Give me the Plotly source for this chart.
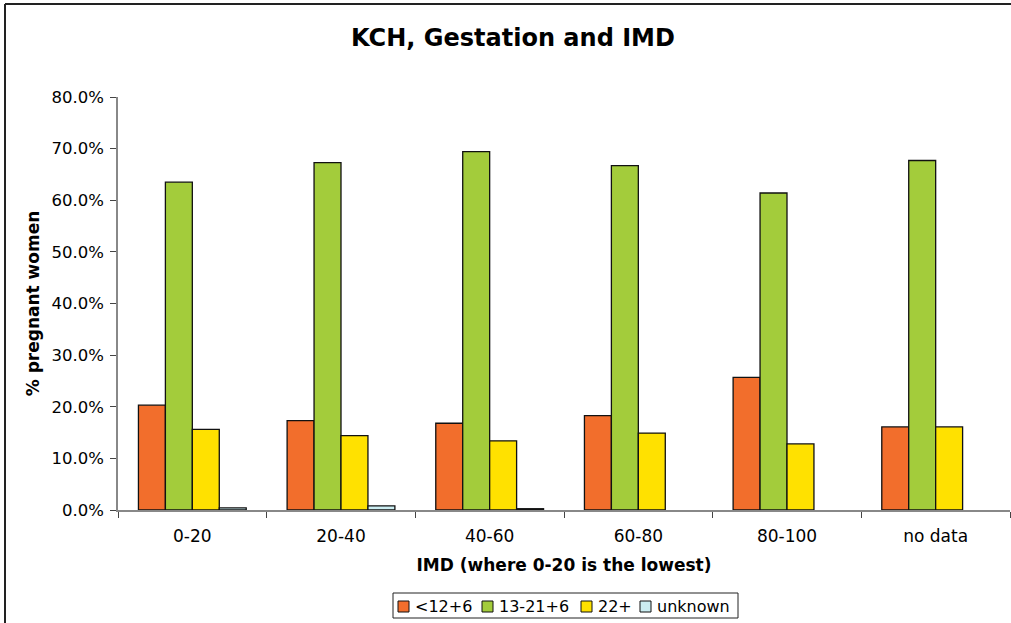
import plotly.graph_objects as go

# IMD bands on the x axis
categories = ["0-20", "20-40", "40-60", "60-80", "80-100", "no data"]

# Share of pregnant women (%) by gestation at booking
under_12_6 = [20.3, 17.3, 16.8, 18.3, 25.7, 16.1]
wk_13_21_6 = [63.5, 67.3, 69.4, 66.7, 61.4, 67.7]
wk_22_plus = [15.6, 14.4, 13.4, 14.9, 12.8, 16.1]
unknown = [0.4, 0.8, 0.25, None, None, None]

series_names = ["<12+6", "13-21+6", "22+", "unknown"]
series_values = [under_12_6, wk_13_21_6, wk_22_plus, unknown]
series_colors = ["#F26E2C", "#A3CC3B", "#FFE100", "#CCEEF2"]

y_ticks = [0, 10, 20, 30, 40, 50, 60, 70, 80]
y_tick_text = [f"{v:.1f}%" for v in y_ticks]

font_family = "DejaVu Sans, Verdana, sans-serif"

# plot area geometry in pixels (used to place the frame and legend)
W, H = 1011, 623
L, R, T, B = 118, 1, 97, 113
PW, PH = W - L - R, H - T - B


def px_x(px):
    return (px - L) / PW


def px_y(py):
    return (H - B - py) / PH


fig = go.Figure()
for name, vals, col in zip(series_names, series_values, series_colors):
    fig.add_trace(go.Bar(
        x=categories, y=vals, name=name,
        marker=dict(color=col, line=dict(color="#111111", width=1.3)),
        showlegend=False,
    ))

fig.update_layout(
    width=W, height=H,
    barmode="group", bargap=0.275, bargroupgap=0,
    plot_bgcolor="white", paper_bgcolor="white",
    margin=dict(l=L, r=R, t=T, b=B),
    font=dict(family=font_family, size=17, color="black"),
    title=dict(
        text="<b>KCH, Gestation and IMD</b>",
        x=513 / W, xanchor="center",
        y=1 - 38 / H, yanchor="middle", yref="container",
        font=dict(size=24, family=font_family, color="black"),
    ),
    xaxis=dict(
        type="category", showgrid=False,
        showline=True, linecolor="#888888", linewidth=1.5,
        ticks="outside", tickson="boundaries", ticklen=6, tickcolor="#444444",
        tickfont=dict(size=17), ticklabelstandoff=10,
        title=dict(text="<b>IMD (where 0-20 is the lowest)</b>",
                   font=dict(size=17), standoff=14),
    ),
    yaxis=dict(
        range=[0, 80], tickvals=y_ticks, ticktext=y_tick_text,
        showgrid=False, zeroline=False,
        showline=True, linecolor="#888888", linewidth=1.5,
        ticks="outside", ticklen=6, tickcolor="#444444",
        tickfont=dict(size=16.5), ticklabelstandoff=3,
        title=dict(text="<b>% pregnant women</b>", font=dict(size=17),
                   standoff=8),
    ),
)

# chart frame (left and top edges visible)
fx0, fy1 = px_x(5), px_y(4)
fig.add_shape(type="line", xref="paper", yref="paper",
              x0=fx0, x1=fx0, y0=px_y(H + 5), y1=fy1,
              line=dict(color="#222222", width=2))
fig.add_shape(type="line", xref="paper", yref="paper",
              x0=fx0, x1=px_x(W + 5), y0=fy1, y1=fy1,
              line=dict(color="#222222", width=2))

# legend: framed row of swatches and labels below the axis title
fig.add_shape(type="rect", xref="paper", yref="paper",
              x0=px_x(393), x1=px_x(738), y0=px_y(618), y1=px_y(593),
              line=dict(color="#222222", width=1), fillcolor="white")
swatch_left = [398, 482, 581, 640]
for name, col, sx in zip(series_names, series_colors, swatch_left):
    fig.add_shape(type="rect", xref="paper", yref="paper",
                  x0=px_x(sx), x1=px_x(sx + 11),
                  y0=px_y(612), y1=px_y(601),
                  line=dict(color="#111111", width=1), fillcolor=col)
    fig.add_annotation(xref="paper", yref="paper",
                       x=px_x(sx + 15), y=px_y(606.5),
                       xanchor="left", yanchor="middle", showarrow=False,
                       text=name, font=dict(size=16, family=font_family,
                                            color="black"))

fig.write_html("out.html")
